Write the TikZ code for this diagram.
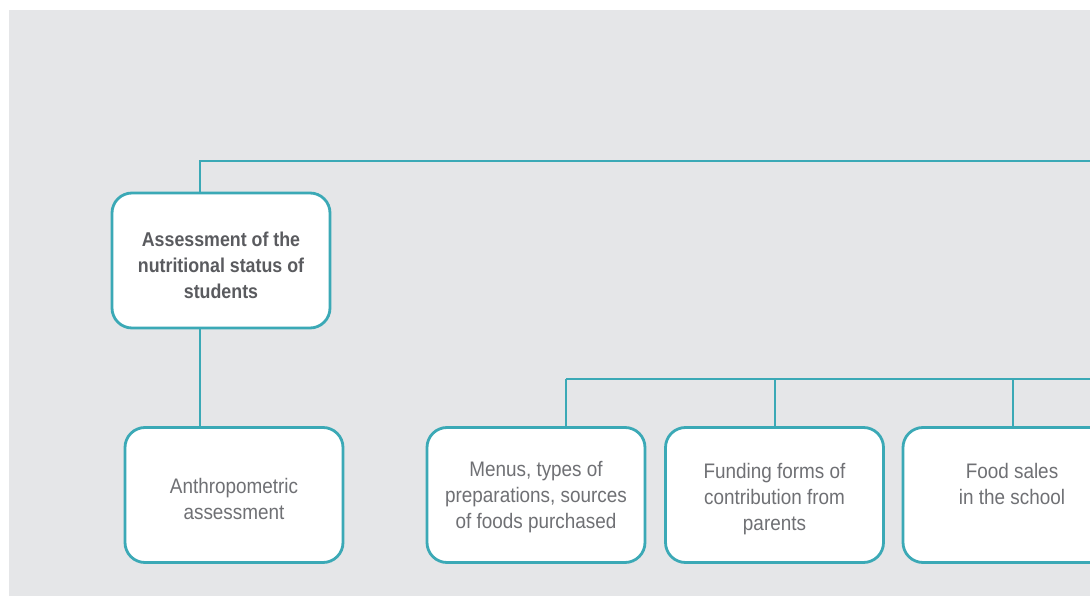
\documentclass[tikz,border=0pt]{standalone}
\usepackage{fontspec}
\setmainfont{Liberation Sans}
\newfontfamily\lightf{Liberation Sans}[FakeStretch=0.9]
\newfontfamily\boldf{Liberation Sans}[FakeStretch=0.89]
\definecolor{bg}{HTML}{E5E6E8}
\definecolor{teal}{HTML}{3BA9B6}
\definecolor{txt}{HTML}{6F7074}
\definecolor{txtb}{HTML}{5A5B5F}
\tikzset{
  box/.style={draw=teal, line width=2.8pt, fill=white, rounded corners=20pt,
    minimum width=218pt, minimum height=135pt, inner sep=0pt},
  lbl/.style={align=center, inner sep=0pt, text=txt,
    font=\lightf\fontsize{21}{26}\selectfont},
  lblb/.style={lbl, text=txtb, font=\boldf\bfseries\fontsize{20}{26}\selectfont},
  conn/.style={draw=teal, line width=2.8pt}
}
\begin{document}
\begin{tikzpicture}[x=1pt,y=-1pt]
\useasboundingbox (0,0) rectangle (1090,596);
\clip (0,0) rectangle (1090,596);
\fill[white] (0,0) rectangle (1090,596);
\fill[bg] (9,10) rectangle (1090,596);
\coordinate (j1) at (200,161);
\coordinate (e1) at (1095,161);
\coordinate (j2) at (566,379);
\coordinate (e2) at (1095,379);
\node[box, label={[lblb, yshift=-5pt]center:Assessment of the\\nutritional status of\\students}] (main) at (221,260.5) {};
\node[box, label={[lbl, yshift=-4pt]center:Anthropometric\\assessment}] (anthro) at (234,495) {};
\node[box, label={[lbl, yshift=-2pt]center:Menus, types of\\preparations, sources\\of foods purchased}] (menus) at (536,495) {};
\node[box, label={[lbl, yshift=-4pt]center:Funding forms of\\contribution from\\parents}] (fund) at (774.5,495) {};
\node[box, label={[lbl, yshift=-2pt]center:Food sales\\in the school\\\phantom{x}}] (sales) at (1012,495) {};
\draw[conn] (main.north -| j1) -- (j1) -- (e1);
\draw[conn] (main.south -| j1) -- (anthro.north -| j1);
\draw[conn] (j2) -- (e2);
\draw[conn] (menus.north -| j2) -- (j2);
\draw[conn] (fund.north -| 775,0) -- (775,379);
\draw[conn] (sales.north -| 1013,0) -- (1013,379);
\end{tikzpicture}
\end{document}
